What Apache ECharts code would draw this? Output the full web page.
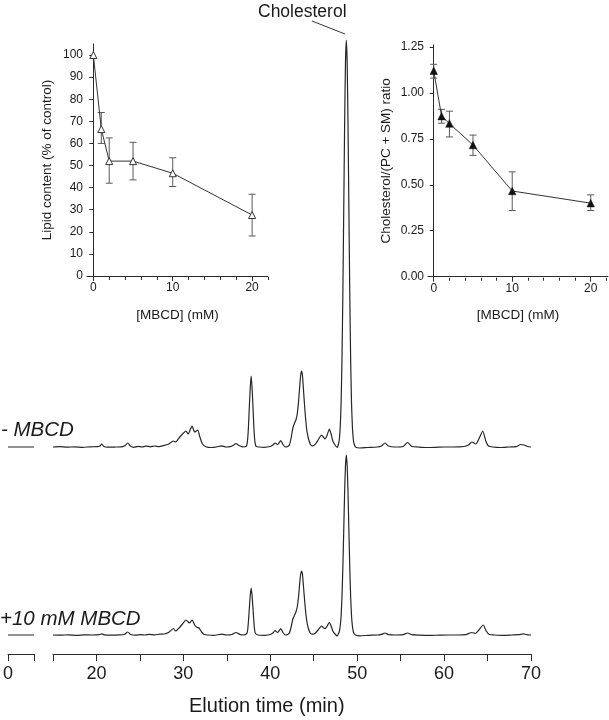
<!DOCTYPE html>
<html><head><meta charset="utf-8">
<script src="https://cdn.jsdelivr.net/npm/echarts@6/dist/echarts.min.js"></script>
<style>html,body{margin:0;padding:0;background:#fff}#c{width:609px;height:720px}</style>
</head><body><div id="c"></div>
<script>
const FONT = '"Liberation Sans", Arial, Helvetica, sans-serif';

// Inset data
const mbcdConc = [0, 1, 2, 5, 10, 20];
const lipidContent = [100, 66.5, 52, 52, 46.5, 27.6];
const lipidErrLow = [100, 60, 42, 43.5, 40.5, 18.1];
const lipidErrHigh = [100, 74, 62.5, 60.5, 53.5, 37];
const cholRatio = [1.12, 0.873, 0.833, 0.716, 0.466, 0.40];
const cholErrLow = [1.08, 0.835, 0.76, 0.66, 0.36, 0.36];
const cholErrHigh = [1.155, 0.91, 0.90, 0.77, 0.57, 0.445];

// Tick values
const lipidTicks = [0, 10, 20, 30, 40, 50, 60, 70, 80, 90, 100];
const ratioTicks = [0, 0.25, 0.5, 0.75, 1.0, 1.25];
const insetMajorTicks = [0, 10, 20];
const insetMinorTicks = [2, 4, 6, 8, 12, 14, 16, 18, 22];
const elutionTicks = [15, 20, 25, 30, 35, 40, 45, 50, 55, 60, 65, 70];
const elutionLabels = [20, 30, 40, 50, 60, 70];
const preBreakTicks = [0, 3];
const preBreakLabels = [0];

// Chromatograms: [elution time (min), detector signal (a.u.)]
const preBreakControl = [[0, 0], [3, 0]];
const preBreakMBCD = [[0, 0], [3, 0]];
const traceControl = [
  [15,0],[15.8,0.3],[16.6,-0.2],[17.5,0.2],[18.4,-0.3],[19.3,0.2],[20.1,0.3],[20.4,1],[20.6,3],[20.85,0.5],
  [21.3,-0.2],[22.2,0],[22.9,0.2],[23.3,1.5],[23.6,4],[23.9,1],[24.3,-0.3],[24.8,0.6],[25.2,0],[25.7,0.9],
  [26.2,0.2],[26.7,1],[27.2,0.4],[27.7,1.4],[28.2,2.5],[28.55,4.5],[28.85,6],[29.1,5],[29.5,9],[29.9,13],
  [30.3,16],[30.55,13],[31.0,21],[31.3,15],[31.65,17],[31.9,10],[32.2,3],[32.6,0.3],[33.2,-0.5],[33.8,0],
  [34.4,1.2],[34.9,0],[35.5,0.6],[35.8,2],[36.05,3.5],[36.4,1.5],[36.8,0.2],[37.2,0.5],[37.3,2],[37.4,8],
  [37.5,22],[37.6,42],[37.7,60],[37.8,71],[37.9,60],[38.0,42],[38.1,22],[38.2,8],[38.3,2],[38.4,0.5],
  [38.7,0],[39.3,-0.3],[40.0,0.5],[40.3,2],[40.55,4],[40.85,2.5],[41.2,6.5],[41.5,2],[41.75,0],[42.0,0.5],
  [42.2,2],[42.4,9],[42.6,19],[42.8,24],[42.95,27],[43.1,33],[43.25,45],[43.4,62],[43.5,72],[43.6,76],
  [43.7,72],[43.8,60],[43.9,47],[44.05,30],[44.2,17],[44.4,8],[44.6,3],[44.8,1],[45.0,1.5],[45.2,3],
  [45.5,7],[45.9,12],[46.1,10],[46.3,8],[46.55,12],[46.8,18],[47.0,13],[47.2,6],[47.45,2],[47.7,-0.5],
  [47.85,3],[47.95,8],[48.05,20],[48.15,44],[48.25,87],[48.35,152],[48.45,234],[48.55,318],[48.65,383],[48.75,407],
  [48.85,383],[48.95,318],[49.05,234],[49.15,152],[49.25,87],[49.35,44],[49.45,20],[49.55,8],[49.65,3],[49.8,0],
  [50.3,-1],[51.2,-0.5],[52.3,0],[52.8,1],[53.2,4],[53.6,1],[54.3,0],[55.3,0.5],[55.8,4.5],[56.3,0.5],
  [57.0,0],[58.0,-0.5],[59.0,-0.3],[60.0,0],[61.0,0],[62.3,0.5],[62.8,2],[63.2,5],[63.65,3],[64.0,8],
  [64.45,16],[64.8,6],[65.1,1],[65.6,0],[66.5,-0.5],[67.5,0],[68.3,0.3],[68.8,2.5],[69.2,2],[69.6,0.5],[70,0]
];
const traceMBCD = [
  [15,0],[15.9,-0.2],[16.8,0.2],[17.7,-0.3],[18.6,0.1],[19.5,0],[20.3,0.3],[20.6,1.2],[20.9,0.2],[21.6,-0.2],
  [22.5,0.1],[23.2,0.5],[23.6,3],[23.95,0.5],[24.5,-0.2],[25.1,0.4],[25.6,0],[26.1,0.6],[26.7,0.1],[27.3,0.8],
  [27.8,1],[28.3,2.5],[28.55,4.5],[28.85,6.5],[29.1,4],[29.5,7],[29.9,11],[30.3,15],[30.7,12],[31.0,15],
  [31.3,10],[31.55,7.7],[31.8,7],[32.1,3],[32.4,0.5],[32.8,0],[33.5,-0.3],[34.4,0.8],[35.0,0],[35.6,0.5],
  [36.05,2.5],[36.5,0.6],[36.9,0],[37.3,1.5],[37.4,5],[37.5,15],[37.6,28],[37.7,40],[37.8,47],[37.9,40],
  [38.0,28],[38.1,15],[38.2,5],[38.3,1.5],[38.6,0],[39.4,-0.3],[40.0,0.5],[40.3,2],[40.55,4.3],[40.85,2.5],
  [41.2,6.5],[41.5,2],[41.75,0],[42.0,0.5],[42.2,2],[42.4,8],[42.6,16],[42.8,20],[42.95,23],[43.1,28],
  [43.25,38],[43.4,53],[43.5,61],[43.6,64],[43.7,61],[43.8,51],[43.9,40],[44.05,25],[44.2,14],[44.4,6],
  [44.6,2],[44.8,0.8],[45.0,1],[45.2,2],[45.5,5],[45.9,9],[46.1,7.5],[46.3,6.3],[46.55,9],[46.8,12.7],
  [47.0,9],[47.2,4],[47.45,1],[47.7,-1],[47.85,1.3],[47.95,3.5],[48.05,9],[48.15,19],[48.25,38],[48.35,67],
  [48.45,103],[48.55,141],[48.65,169],[48.75,180],[48.85,169],[48.95,141],[49.05,103],[49.15,67],[49.25,38],[49.35,19],
  [49.45,9],[49.55,3.5],[49.65,1.3],[49.8,0],[50.3,-0.8],[51.3,-0.3],[52.4,0],[52.8,0.6],[53.2,2],[53.6,0.4],
  [54.4,0],[55.3,0.3],[55.8,2],[56.3,0.3],[57.2,-0.2],[58.3,-0.4],[59.4,-0.2],[60.5,0],[61.6,0],[62.5,0.4],
  [63.2,2.5],[63.6,1.5],[64.0,5],[64.5,10],[64.85,4],[65.2,0.5],[65.8,0],[66.8,-0.4],[67.8,0],[68.6,0.3],
  [69.1,1.2],[69.5,0.4],[70,0]
];

const INK = '#1a1a1a';
const AXIS = '#2a2a2a';
const TRACE = '#262626';

function errBarRender(params, api) {
  const x = api.value(0), lo = api.value(1), hi = api.value(2);
  const a = api.coord([x, lo]), b = api.coord([x, hi]);
  const w = 3.5;
  const st = { stroke: '#5a5a5a', lineWidth: 1 };
  return { type: 'group', children: [
    { type: 'line', shape: { x1: a[0], y1: a[1], x2: b[0], y2: b[1] }, style: st },
    { type: 'line', shape: { x1: a[0] - w, y1: a[1], x2: a[0] + w, y2: a[1] }, style: st },
    { type: 'line', shape: { x1: b[0] - w, y1: b[1], x2: b[0] + w, y2: b[1] }, style: st }
  ]};
}
function errData(lo, hi) {
  return mbcdConc.map((x, i) => [x, lo[i], hi[i]]).filter(d => d[2] > d[1]);
}

const hiddenX = (gi, min, max) => ({ type: 'value', gridIndex: gi, min, max, show: false });
const hiddenY = (gi, min, max) => ({ type: 'value', gridIndex: gi, min, max, show: false });

const axisLineStyle = { show: true, lineStyle: { color: AXIS, width: 1 } };

const option = {
  animation: false,
  backgroundColor: '#fff',
  textStyle: { fontFamily: FONT },
  grid: [
    { left: 53, width: 478, top: 37, height: 420 },   // 0 top trace
    { left: 8, width: 26, top: 37, height: 420 },     // 1 top pre-break
    { left: 53, width: 478, top: 445, height: 200 },  // 2 bottom trace
    { left: 8, width: 26, top: 445, height: 200 },    // 3 bottom pre-break
    { left: 53, width: 478, top: 653, height: 1 },    // 4 axis
    { left: 8, width: 26, top: 653, height: 1 },      // 5 axis pre-break
    { left: 87, width: 181, top: 44, height: 232 },   // 6 left inset
    { left: 428, width: 180, top: 45, height: 231.7 } // 7 right inset
  ],
  xAxis: [
    hiddenX(0, 15, 70), hiddenX(1, 0, 3), hiddenX(2, 15, 70), hiddenX(3, 0, 3),
    { type: 'value', gridIndex: 4, min: 15, max: 70, position: 'bottom',
      axisLine: axisLineStyle, splitLine: { show: false },
      axisTick: { show: true, length: 7, customValues: elutionTicks, lineStyle: { color: AXIS } },
      axisLabel: { customValues: elutionLabels, margin: 11, fontSize: 18, color: INK, fontFamily: FONT } },
    { type: 'value', gridIndex: 5, min: 0, max: 3, position: 'bottom',
      axisLine: axisLineStyle, splitLine: { show: false },
      axisTick: { show: true, length: 7, customValues: preBreakTicks, lineStyle: { color: AXIS } },
      axisLabel: { customValues: preBreakLabels, margin: 11, fontSize: 18, color: INK, fontFamily: FONT } },
    // left inset
    { type: 'value', gridIndex: 6, min: -0.8, max: 22, position: 'bottom', offset: 1,
      name: '[MBCD] (mM)', nameLocation: 'middle', nameGap: 31,
      nameTextStyle: { fontSize: 13.5, color: INK, fontFamily: FONT },
      axisLine: axisLineStyle, splitLine: { show: false },
      axisTick: { show: true, length: 5, customValues: insetMajorTicks, lineStyle: { color: AXIS } },
      axisLabel: { customValues: insetMajorTicks, margin: 5, fontSize: 12, color: INK, fontFamily: FONT } },
    { type: 'value', gridIndex: 6, min: -0.8, max: 22, position: 'bottom', offset: 1,
      axisLine: { show: false }, splitLine: { show: false }, axisLabel: { show: false },
      axisTick: { show: true, length: 3, customValues: insetMinorTicks, lineStyle: { color: AXIS } } },
    // right inset
    { type: 'value', gridIndex: 7, min: -0.73, max: 22.2, position: 'bottom', offset: 1,
      name: '[MBCD] (mM)', nameLocation: 'middle', nameGap: 31,
      nameTextStyle: { fontSize: 13.5, color: INK, fontFamily: FONT },
      axisLine: axisLineStyle, splitLine: { show: false },
      axisTick: { show: true, length: 5, customValues: insetMajorTicks, lineStyle: { color: AXIS } },
      axisLabel: { customValues: insetMajorTicks, margin: 5, fontSize: 12, color: INK, fontFamily: FONT } },
    { type: 'value', gridIndex: 7, min: -0.73, max: 22.2, position: 'bottom', offset: 1,
      axisLine: { show: false }, splitLine: { show: false }, axisLabel: { show: false },
      axisTick: { show: true, length: 3, customValues: insetMinorTicks, lineStyle: { color: AXIS } } }
  ],
  yAxis: [
    hiddenY(0, -10, 410), hiddenY(1, -10, 410), hiddenY(2, -10, 190), hiddenY(3, -10, 190),
    hiddenY(4, 0, 1), hiddenY(5, 0, 1),
    { type: 'value', gridIndex: 6, min: 0, max: 105,
      name: 'Lipid content (% of control)', nameLocation: 'middle', nameGap: 33,
      nameTextStyle: { fontSize: 13.5, color: INK, fontFamily: FONT },
      axisLine: axisLineStyle, splitLine: { show: false },
      axisTick: { show: true, length: 4, customValues: lipidTicks, lineStyle: { color: AXIS } },
      axisLabel: { customValues: lipidTicks, margin: 4, fontSize: 12, color: INK, fontFamily: FONT } },
    { type: 'value', gridIndex: 7, min: 0, max: 1.26,
      name: 'Cholesterol/(PC + SM) ratio', nameLocation: 'middle', nameGap: 35,
      nameTextStyle: { fontSize: 13.5, color: INK, fontFamily: FONT },
      axisLine: axisLineStyle, splitLine: { show: false },
      axisTick: { show: true, length: 4, customValues: ratioTicks, lineStyle: { color: AXIS } },
      axisLabel: { customValues: ratioTicks, margin: 4, fontSize: 12, color: INK, fontFamily: FONT,
        formatter: v => Number(v).toFixed(2) } }
  ],
  series: [
    { type: 'line', xAxisIndex: 0, yAxisIndex: 0, data: traceControl, showSymbol: false, smooth: 0.2,
      lineStyle: { color: TRACE, width: 1.2 } },
    { type: 'line', xAxisIndex: 1, yAxisIndex: 1, data: preBreakControl, showSymbol: false,
      lineStyle: { color: TRACE, width: 1.2 } },
    { type: 'line', xAxisIndex: 2, yAxisIndex: 2, data: traceMBCD, showSymbol: false, smooth: 0.2,
      lineStyle: { color: TRACE, width: 1.2 } },
    { type: 'line', xAxisIndex: 3, yAxisIndex: 3, data: preBreakMBCD, showSymbol: false,
      lineStyle: { color: TRACE, width: 1.2 } },
    // left inset
    { type: 'custom', xAxisIndex: 6, yAxisIndex: 6, renderItem: errBarRender,
      data: errData(lipidErrLow, lipidErrHigh), encode: { x: 0, y: [1, 2] }, z: 3 },
    { type: 'line', xAxisIndex: 6, yAxisIndex: 6, data: mbcdConc.map((x, i) => [x, lipidContent[i]]),
      symbol: 'triangle', symbolSize: 7, showAllSymbol: true,
      itemStyle: { color: '#fff', borderColor: '#333', borderWidth: 1 },
      lineStyle: { color: '#333', width: 1 }, z: 4 },
    // right inset
    { type: 'custom', xAxisIndex: 8, yAxisIndex: 7, renderItem: errBarRender,
      data: errData(cholErrLow, cholErrHigh), encode: { x: 0, y: [1, 2] }, z: 3 },
    { type: 'line', xAxisIndex: 8, yAxisIndex: 7, data: mbcdConc.map((x, i) => [x, cholRatio[i]]),
      symbol: 'triangle', symbolSize: 7.5, showAllSymbol: true,
      itemStyle: { color: '#111', borderColor: '#111', borderWidth: 0.5 },
      lineStyle: { color: '#333', width: 1 }, z: 4 }
  ],
  graphic: [
    { type: 'text', left: 258, top: 3, style: { text: 'Cholesterol', font: '17.5px ' + FONT, fill: INK } },
    { type: 'line', shape: { x1: 312, y1: 21, x2: 345, y2: 34 }, style: { stroke: '#333', lineWidth: 1 } },
    { type: 'text', left: 1, top: 420, style: { text: '- MBCD', font: 'italic 20.5px ' + FONT, fill: INK } },
    { type: 'text', left: 0, top: 609, style: { text: '+10 mM MBCD', font: 'italic 20.5px ' + FONT, fill: INK } },
    { type: 'text', left: 189, top: 696, style: { text: 'Elution time (min)', font: '20px ' + FONT, fill: INK } }
  ]
};

const chart = echarts.init(document.getElementById('c'), null, { renderer: 'canvas' });
chart.setOption(option);
</script>
</body></html>
